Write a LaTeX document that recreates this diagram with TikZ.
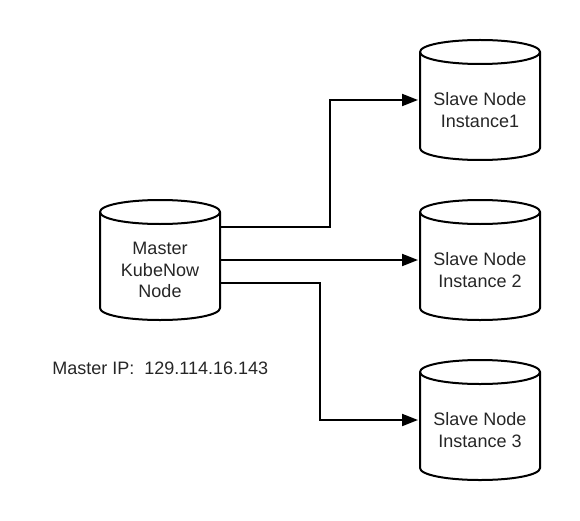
\documentclass[tikz,border=0pt]{standalone}
\usepackage{fontspec}
\setmainfont{Liberation Sans}
\usetikzlibrary{arrows.meta}
\tikzset{x=0.75pt,y=-0.75pt,
  cyl/.style={line width=1.5pt,draw=black,fill=white},
  cyltext/.style={align=center,font=\fontsize{13.5}{16}\selectfont,text=black!85,inner sep=0pt},
  conn/.style={line width=1.5pt,draw=black,-{Triangle[length=12pt,width=9pt]}}}
\newcommand{\cylinder}[2]{%
  \draw[cyl] (#1,#2+12) .. controls (#1,#2+5) and (#1+27,#2) .. (#1+60,#2) .. controls (#1+93,#2) and (#1+120,#2+5) .. (#1+120,#2+12)
   -- (#1+120,#2+108) .. controls (#1+120,#2+115) and (#1+93,#2+120) .. (#1+60,#2+120) .. controls (#1+27,#2+120) and (#1,#2+115) .. (#1,#2+108) -- cycle;
  \draw[cyl,fill=none] (#1,#2+12) .. controls (#1,#2+19) and (#1+27,#2+24) .. (#1+60,#2+24) .. controls (#1+93,#2+24) and (#1+120,#2+19) .. (#1+120,#2+12);
}
\begin{document}
\begin{tikzpicture}
\useasboundingbox (0,0) rectangle (580,520);
\cylinder{100}{200}
\cylinder{420}{40}
\cylinder{420}{200}
\cylinder{420}{360}
\node[cyltext] (m) at (160,270) {Master\\KubeNow\\Node};
\node[cyltext] (s1) at (480,110) {Slave Node\\Instance1};
\node[cyltext] (s2) at (480,270) {Slave Node\\Instance 2};
\node[cyltext] (s3) at (480,430) {Slave Node\\Instance 3};
\coordinate (ma) at (220,227);
\coordinate (mb) at (220,260);
\coordinate (mc) at (220,283);
\coordinate (sa) at (418,100);
\coordinate (sb) at (418,260);
\coordinate (sc) at (418,420);
\draw[conn] (ma) -- (330,227) -- (330,100) -- (sa);
\draw[conn] (mb) -- (sb);
\draw[conn] (mc) -- (320,283) -- (320,420) -- (sc);
\node[anchor=west,inner sep=0pt,font=\fontsize{13.5}{16}\selectfont,text=black!85] (ip) at (52,368) {Master IP:\ \ 129.114.16.143};
\end{tikzpicture}
\end{document}
